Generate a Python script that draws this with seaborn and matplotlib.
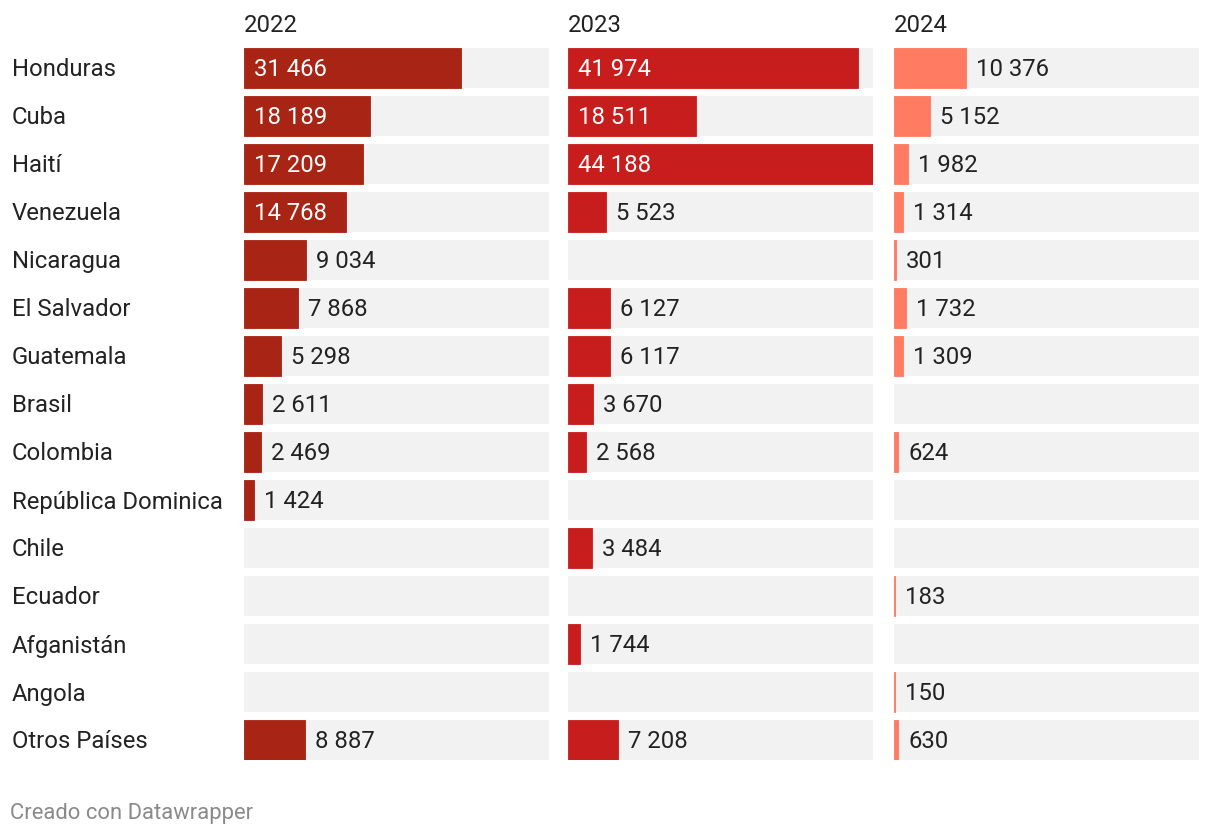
import numpy as np
import pandas as pd
import matplotlib
matplotlib.use("Agg")
import matplotlib.pyplot as plt
import matplotlib.transforms as mtransforms
import seaborn as sns

countries = ["Honduras", "Cuba", "Haití", "Venezuela", "Nicaragua", "El Salvador",
             "Guatemala", "Brasil", "Colombia", "República Dominica", "Chile",
             "Ecuador", "Afganistán", "Angola", "Otros Países"]
years = ["2022", "2023", "2024"]
v2022 = [31466, 18189, 17209, 14768, 9034, 7868, 5298, 2611, 2469, 1424,
         np.nan, np.nan, np.nan, np.nan, 8887]
v2023 = [41974, 18511, 44188, 5523, np.nan, 6127, 6117, 3670, 2568, np.nan,
         3484, np.nan, 1744, np.nan, 7208]
v2024 = [10376, 5152, 1982, 1314, 301, 1732, 1309, np.nan, 624, np.nan,
         np.nan, 183, np.nan, 150, 630]
colors = ["#a82515", "#c71e1d", "#ff7b61"]

sns.set_theme(style="white")
plt.rcParams["font.family"] = ["Roboto", "DejaVu Sans"]

W, H = 1220, 836
fig = plt.figure(figsize=(W / 100, H / 100), dpi=100)

series = [v2022, v2023, v2024]
xmax = np.nanmax(np.concatenate([np.array(s, dtype=float) for s in series]))
lefts = [244, 568, 894]
pw = 305
top_px, bot_px = 48, 760
bar_w = 40 / 48
FS = 17.2
TXT = "#222222"

def fmt(v):
    return f"{int(v):,}".replace(",", " ")

axes = []
for i, (yr, vals, col) in enumerate(zip(years, series, colors)):
    ax = fig.add_axes([lefts[i] / W, 1 - bot_px / H, pw / W, (bot_px - top_px) / H])
    df = pd.DataFrame({"country": countries, "value": vals, "track": xmax})
    sns.barplot(data=df, x="track", y="country", order=countries, color="#f2f2f2",
                width=bar_w, ax=ax, saturation=1, linewidth=0)
    sns.barplot(data=df.dropna(), x="value", y="country", order=countries, color=col,
                width=bar_w, ax=ax, saturation=1, linewidth=0.6, edgecolor=col)
    ax.set_xlim(0, xmax)
    ax.set_ylim(len(countries) - 1 + bar_w / 2, -bar_w / 2)
    ax.set_xlabel("")
    ax.set_ylabel("")
    ax.set_xticks([])
    ax.set_yticks([])
    for s in ax.spines.values():
        s.set_visible(False)
    for j, v in enumerate(vals):
        if np.isnan(v):
            continue
        if v > 12000:
            ax.annotate(fmt(v), xy=(0, j), xytext=(10, -2), textcoords="offset pixels",
                        ha="left", va="center", color="white", fontsize=FS)
        else:
            ax.annotate(fmt(v), xy=(v, j), xytext=(10, -2), textcoords="offset pixels",
                        ha="left", va="center", color=TXT, fontsize=FS)
    fig.text(lefts[i] / W, 1 - 26 / H, yr, ha="left", va="center",
             color=TXT, fontsize=FS)
    axes.append(ax)

trans = mtransforms.blended_transform_factory(fig.transFigure, axes[0].transData)
for j, c in enumerate(countries):
    axes[0].annotate(c, xy=(12 / W, j), xycoords=trans, xytext=(0, -2),
                     textcoords="offset pixels", ha="left", va="center",
                     color=TXT, fontsize=FS, annotation_clip=False)

fig.text(10 / W, 1 - 813 / H, "Creado con Datawrapper", ha="left", va="center",
         color="#8a8a8a", fontsize=15.8)

fig.savefig("out.png", dpi=100)
